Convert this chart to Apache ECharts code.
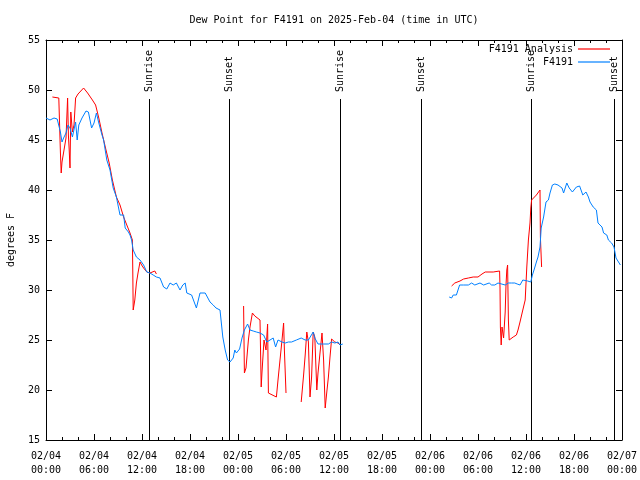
<!DOCTYPE html>
<html><head><meta charset="utf-8">
<script src="https://cdn.jsdelivr.net/npm/echarts@6/dist/echarts.min.js"></script>
<style>html,body{margin:0;padding:0;background:#fff}#c{width:640px;height:480px}</style>
</head><body><div id="c"></div>
<script>
// Hours since 2025-02-04 00:00 UTC; null marks a gap
const obsHours = [0,0.5,1.0,1.4,1.8,2.0,2.2,2.5,2.75,3.0,3.3,3.7,3.9,4.1,4.5,5.0,5.3,5.7,6.0,6.3,6.6,7.0,7.2,7.6,8.0,8.4,8.8,9.25,9.7,9.9,10.3,10.5,10.7,10.9,11.3,11.75,12.2,12.6,13.0,13.4,13.8,14.25,14.5,14.7,15.1,15.5,15.9,16.3,16.75,17.1,17.4,17.6,18.2,18.8,19.25,19.9,20.5,20.9,21.25,21.5,21.75,22.1,22.4,22.7,23.0,23.4,23.6,23.8,24.2,24.5,24.8,25.2,25.5,25.9,26.3,26.75,27.2,27.6,28.0,28.4,28.7,29.0,29.5,29.9,30.3,30.7,31.3,31.9,32.4,32.8,33.4,33.6,34.0,34.7,35.3,35.7,36.1,36.5,36.75,37.1,
  43,
  50.4,50.7,50.9,51.3,51.7,52.2,52.8,53.2,53.6,54.25,54.7,55.4,55.7,56.1,56.5,56.75,57.4,57.8,58.2,58.6,58.9,59.25,59.6,60.2,60.6,60.8,61.0,61.3,61.5,61.75,61.9,62.2,62.5,62.8,63.0,63.3,63.6,64.0,64.5,64.7,65.1,65.4,65.8,66.3,66.7,67.1,67.5,67.8,68.0,68.4,68.8,69.0,69.5,69.7,70.1,70.3,70.7,71.0,71.25,71.5,71.8];
const obsValues = [47.2,47.0,47.2,47.1,45.8,44.8,45.2,45.7,46.5,46.2,45.3,46.8,45.0,46.5,47.2,47.9,47.8,46.2,46.7,47.7,46.7,45.5,45.0,43.0,42.0,40.2,39.3,37.5,37.5,36.2,35.8,35.5,35.0,34.0,33.3,33.0,32.5,31.8,31.7,31.5,31.3,31.2,31.0,30.3,30.1,30.7,30.5,30.7,30.0,30.5,30.7,29.7,29.5,28.2,29.7,29.7,28.8,28.5,28.2,28.0,28.0,25.3,24.0,23.0,22.8,23.2,24.0,23.7,24.1,25.2,26.0,26.6,26.0,25.9,25.8,25.7,25.5,24.8,25.0,25.2,24.3,25.0,24.8,24.7,24.8,24.8,25.0,25.2,25.0,25.0,25.8,25.2,24.6,24.6,24.6,24.8,24.7,24.8,24.5,24.6,
  null,
  29.3,29.2,29.5,29.5,30.5,30.5,30.5,30.7,30.5,30.7,30.5,30.7,30.5,30.5,30.7,30.5,30.5,30.7,30.7,30.7,30.6,30.5,31.0,30.9,30.8,31.5,32.0,32.8,33.3,34.3,36.2,37.3,38.8,39.0,39.7,40.5,40.6,40.5,40.2,39.7,40.7,40.2,39.8,40.3,40.4,39.5,39.8,39.3,38.8,38.3,38.0,36.7,36.3,35.7,35.5,35.0,34.7,34.3,33.2,33.3,32.5];

const anaHours = [0.8,1.6,1.8,1.9,2.0,2.5,2.7,2.8,2.9,3.0,3.1,3.3,3.5,3.7,4.0,4.7,5.2,5.8,6.2,6.6,7.0,7.5,7.9,8.3,8.8,9.25,9.7,10.1,10.5,10.8,10.85,10.9,11.1,11.3,11.5,11.75,11.95,12.2,12.6,13.0,13.6,13.8,
  20,
  24.7,24.8,25.0,25.3,25.5,25.8,26.1,26.75,26.9,27.0,27.25,27.5,27.7,27.8,28.8,29.0,29.25,29.5,29.7,29.8,30.0,
  31,
  31.9,32.2,32.4,32.6,32.8,33.0,33.2,33.4,33.6,33.85,34.0,34.5,34.7,34.9,35.1,35.3,35.5,35.7,36.1,36.5,36.75,
  44,
  50.7,51.1,51.75,52.2,52.8,53.4,54.0,54.5,54.9,55.9,56.7,56.75,56.8,56.9,57.0,57.2,57.4,57.5,57.6,57.7,57.8,57.9,58.4,58.8,59.0,59.25,59.6,59.9,60.1,60.3,60.5,60.6,60.7,60.9,61.3,61.75,61.8,61.95];
const anaValues = [49.3,49.2,43.8,41.7,42.8,45.2,49.2,45.5,44.0,42.2,47.8,45.8,46.5,49.2,49.6,50.2,49.7,49.0,48.5,47.2,45.7,44.0,42.7,41.0,39.3,38.5,37.3,36.5,35.7,35.0,31.7,28.0,29.0,30.7,31.7,32.8,32.5,32.2,31.8,31.7,31.9,31.6,
  null,
  28.4,21.7,22.2,25.0,26.3,27.7,27.4,27.0,20.3,21.8,25.0,24.0,26.6,19.7,19.3,21.0,23.0,25.0,26.7,24.0,19.7,
  null,
  18.8,21.5,23.5,25.8,24.8,19.3,21.3,25.8,25.3,20.0,21.7,25.7,23.0,18.2,19.8,21.3,23.3,25.1,24.8,24.7,24.5,
  null,
  30.4,30.7,30.9,31.1,31.2,31.3,31.3,31.6,31.8,31.8,31.9,30.3,26.3,24.5,26.3,25.2,27.8,30.5,32.0,32.5,27.0,25.0,25.3,25.5,26.0,26.8,28.0,29.0,32.3,35.0,36.7,38.2,39.0,39.2,39.5,40.0,35.3,32.3];

const eventHours = [12.875, 22.875, 36.75, 46.875, 60.625, 71.0];
const eventLabels = ['Sunrise','Sunset','Sunrise','Sunset','Sunrise','Sunset'];
const eventTop = 49.1;

const xTickLabels = ['02/04\n00:00','02/04\n06:00','02/04\n12:00','02/04\n18:00','02/05\n00:00','02/05\n06:00','02/05\n12:00','02/05\n18:00','02/06\n00:00','02/06\n06:00','02/06\n12:00','02/06\n18:00','02/07\n00:00'];

const FONT = '"DejaVu Sans Mono", "Liberation Mono", monospace';
const pair = (hs, vs) => hs.map((h, i) => [h, vs[i] === null ? '-' : vs[i]]);

const baseX = {
  type: 'value', min: 0, max: 72, interval: 6,
  axisLine: { show: true, onZero: false, lineStyle: { color: '#000', width: 1 } },
  axisTick: { show: true, inside: true, length: 6, lineStyle: { color: '#000' } },
  minorTick: { show: true, splitNumber: 3, length: 3, lineStyle: { color: '#000' } },
  splitLine: { show: false }
};
const baseY = {
  type: 'value', min: 15, max: 55, interval: 5,
  axisLine: { show: true, onZero: false, lineStyle: { color: '#000', width: 1 } },
  axisTick: { show: true, inside: true, length: 6, lineStyle: { color: '#000' } },
  splitLine: { show: false }
};

const chart = echarts.init(document.getElementById('c'), null, { renderer: 'canvas' });
chart.setOption({
  animation: false,
  backgroundColor: '#fff',
  textStyle: { fontFamily: FONT },
  grid: { left: 46, right: 18, top: 40, bottom: 40, containLabel: false, outerBoundsMode: 'none' },
  graphic: [{
    type: 'text', x: 334, y: 20,
    style: { text: 'Dew Point for F4191 on 2025-Feb-04 (time in UTC)', font: '10px ' + FONT, fill: '#000', textAlign: 'center', textVerticalAlign: 'middle' }
  }],
  legend: {
    orient: 'vertical', right: 30, top: 44, padding: 0,
    align: 'right', itemWidth: 32, itemHeight: 10, itemGap: 3,
    icon: 'path://M0,0L32,0L32,1.2L0,1.2Z', symbolKeepAspect: true,
    textStyle: { fontFamily: FONT, fontSize: 10, color: '#000' },
    data: ['F4191 Analysis', 'F4191']
  },
  xAxis: [
    Object.assign({}, baseX, {
      position: 'bottom',
      axisLabel: { show: true, color: '#000', fontFamily: FONT, fontSize: 10, lineHeight: 14, margin: 9,
        formatter: v => xTickLabels[Math.round(v / 6)] || '' }
    }),
    Object.assign({}, baseX, { position: 'top', axisLabel: { show: false } })
  ],
  yAxis: [
    Object.assign({}, baseY, {
      position: 'left',
      name: 'degrees F', nameLocation: 'middle', nameGap: 30, nameRotate: 90,
      nameTextStyle: { color: '#000', fontFamily: FONT, fontSize: 10 },
      axisLabel: { show: true, color: '#000', fontFamily: FONT, fontSize: 10, margin: 6 }
    }),
    Object.assign({}, baseY, { position: 'right', axisLabel: { show: false } })
  ],
  series: [
    {
      name: 'F4191 Analysis', type: 'line', xAxisIndex: 0, yAxisIndex: 0,
      data: pair(anaHours, anaValues), symbol: 'none', connectNulls: false,
      lineStyle: { color: '#ff0000', width: 1 }, itemStyle: { color: '#ff0000' }, z: 3
    },
    {
      name: 'F4191', type: 'line', xAxisIndex: 0, yAxisIndex: 0,
      data: pair(obsHours, obsValues), symbol: 'none', connectNulls: false,
      lineStyle: { color: '#0080ff', width: 1 }, itemStyle: { color: '#0080ff' }, z: 4
    },
    {
      name: 'events', type: 'custom', xAxisIndex: 0, yAxisIndex: 0, clip: false, z: 2,
      data: eventHours.map(h => [h]),
      renderItem: function (params, api) {
        const h = api.value(0);
        const top = api.coord([h, eventTop]);
        const bot = api.coord([h, 15]);
        const x = Math.round(top[0]) + 0.5;
        return {
          type: 'group',
          children: [
            { type: 'line', shape: { x1: x, y1: Math.round(top[1]), x2: x, y2: bot[1] }, style: { stroke: '#000', lineWidth: 1 } },
            { type: 'text', x: x, y: top[1] - 7, rotation: Math.PI / 2,
              style: { text: eventLabels[params.dataIndex], font: '10px ' + FONT, fill: '#000', textAlign: 'left', textVerticalAlign: 'middle' } }
          ]
        };
      }
    }
  ]
});
</script></body></html>
